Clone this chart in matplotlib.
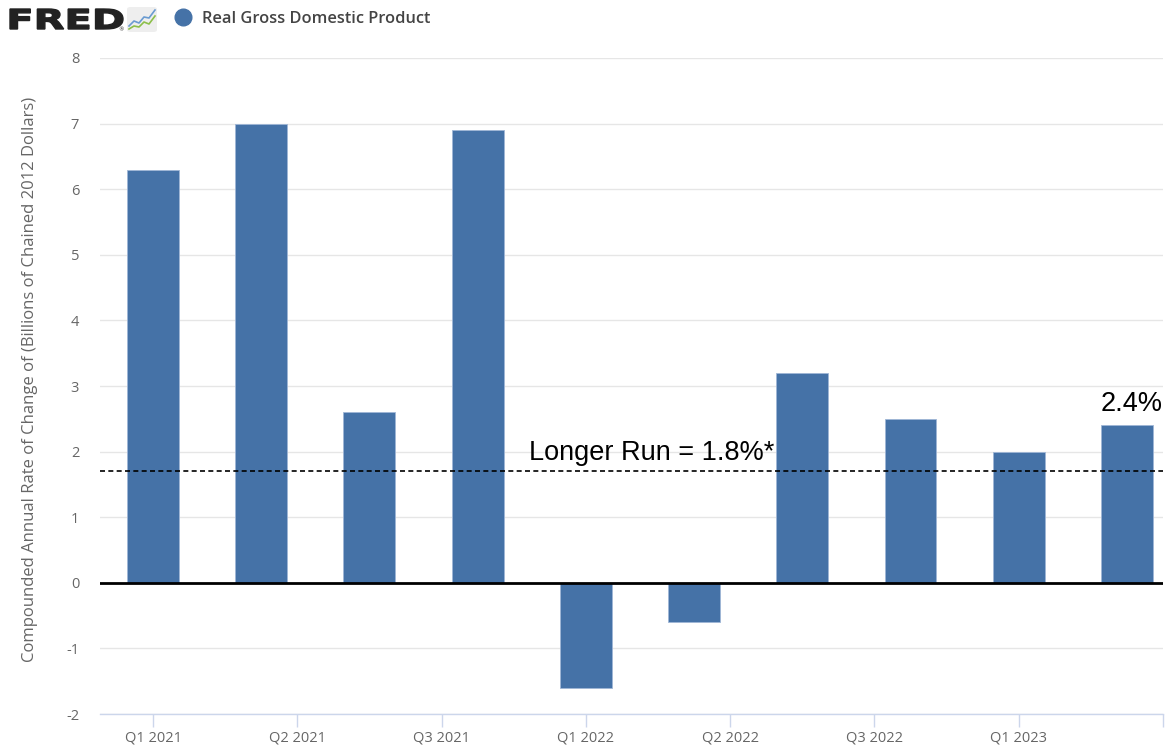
import numpy as np
import matplotlib
matplotlib.use('Agg')
import matplotlib.pyplot as plt
from matplotlib.textpath import TextPath
from matplotlib.patches import PathPatch, FancyBboxPatch
from matplotlib.font_manager import FontProperties
from matplotlib.transforms import Affine2D

# Dados (taxa anual composta, %)
quarters = ['Q1 2021', 'Q2 2021', 'Q3 2021', 'Q4 2021', 'Q1 2022',
            'Q2 2022', 'Q3 2022', 'Q4 2022', 'Q1 2023', 'Q2 2023']
gdp_growth = [6.3, 7.0, 2.6, 6.9, -1.6, -0.6, 3.2, 2.5, 2.0, 2.4]
longer_run = 1.7
longer_run_label = 'Longer Run = 1.8%*'
last_label = '2.4%'
tick_labels = ['Q1 2021', 'Q2 2021', 'Q3 2021', 'Q1 2022',
               'Q2 2022', 'Q3 2022', 'Q1 2023', '']
y_ticks = [-2, -1, 0, 1, 2, 3, 4, 5, 6, 7, 8]

W, H = 1167, 745
bar_color = '#4572a7'
gray_txt = '#666666'

fig = plt.figure(figsize=(W / 100, H / 100), dpi=100, facecolor='white')
ax = fig.add_axes([100 / W, (H - 714) / H, 1063 / W, (714 - 58) / H])

x = np.arange(len(gdp_growth))
ax.bar(x, gdp_growth, width=0.48, color=bar_color, edgecolor='#9fb6d6',
       linewidth=0.6, zorder=3)

# eixo zero e linha de longo prazo
ax.axhline(0, color='black', lw=2, zorder=4)
ax.axhline(longer_run, color='black', lw=1.2, ls=(0, (3, 2)), zorder=5)

ax.text(3.47, 1.87, longer_run_label, fontsize=19.5, family='Liberation Sans',
        ha='left', va='baseline', zorder=6)
ax.text(9.33, 2.62, last_label, fontsize=19.5, family='Liberation Sans',
        ha='right', va='baseline', zorder=6)

ax.set_xlim(-0.49, 9.33)
ax.set_ylim(-2, 8)
ax.set_yticks(y_ticks)
ax.set_yticklabels([str(v) for v in y_ticks])
# ticks a cada 4 meses (posições em trimestres)
ax.set_xticks(np.arange(len(tick_labels)) * 4 / 3)
ax.set_xticklabels(tick_labels)

ax.grid(axis='y', color='#e6e6e6', lw=1, zorder=0)
for s in ['top', 'right', 'left']:
    ax.spines[s].set_visible(False)
ax.spines['bottom'].set_color('#ccd6eb')
ax.spines['bottom'].set_linewidth(1)
ax.tick_params(axis='y', length=0, pad=15, labelsize=10.5, labelcolor=gray_txt)
ax.tick_params(axis='x', length=9, width=1, color='#ccd6eb', pad=3,
               labelsize=10.5, labelcolor=gray_txt)
for lab in ax.get_xticklabels() + ax.get_yticklabels():
    lab.set_family('Open Sans')

fig.text(30 / W, 1 - 379 / H,
         'Compounded Annual Rate of Change of (Billions of Chained 2012 Dollars)',
         rotation=90, ha='center', va='center', fontsize=12,
         color=gray_txt, family='Open Sans')

# logo FRED
tp = TextPath((0, 0), 'FRED', size=30,
              prop=FontProperties(family='DejaVu Sans', weight='bold'))
ext = tp.get_extents()
sx = 113 / ext.width
sy = 20 / ext.height
tr = (Affine2D().translate(-ext.x0, -ext.y0).scale(sx, sy)
      .translate(10, H - 29).scale(1 / W, 1 / H))
fig.add_artist(PathPatch(tr.transform_path(tp), facecolor='#222222',
                         edgecolor='#222222', lw=1.0, transform=fig.transFigure))
fig.text(121 / W, 1 - 30 / H, '®', fontsize=4, color='#222222',
         ha='center', va='center')

# ícone do gráfico
fig.add_artist(FancyBboxPatch((127 / W, 1 - 32 / H), 30 / W, 25 / H,
                              boxstyle='round,pad=0,rounding_size=0.003',
                              facecolor='#eeeeee', edgecolor='none',
                              transform=fig.transFigure))
ix = np.array([129, 134, 139, 144, 149, 155]) / W
iy_blue = 1 - np.array([26, 21, 23, 17, 18, 10]) / H
iy_green = 1 - np.array([29, 26, 27, 22, 24, 16]) / H
fig.add_artist(plt.Line2D(ix, iy_blue, color='#6a9bd1', lw=1.2,
                          transform=fig.transFigure))
fig.add_artist(plt.Line2D(ix, iy_green, color='#8cbf4a', lw=1.2,
                          transform=fig.transFigure))

# legenda
fig.add_artist(plt.Line2D([183 / W], [1 - 17 / H], marker='o', markersize=12,
                          color=bar_color, transform=fig.transFigure))
fig.text(202 / W, 1 - 19 / H, 'Real Gross Domestic Product', fontsize=11.75,
         color='#444444', family='Open Sans', weight='semibold',
         ha='left', va='center')

fig.savefig('out.png', dpi=100, facecolor='white')
